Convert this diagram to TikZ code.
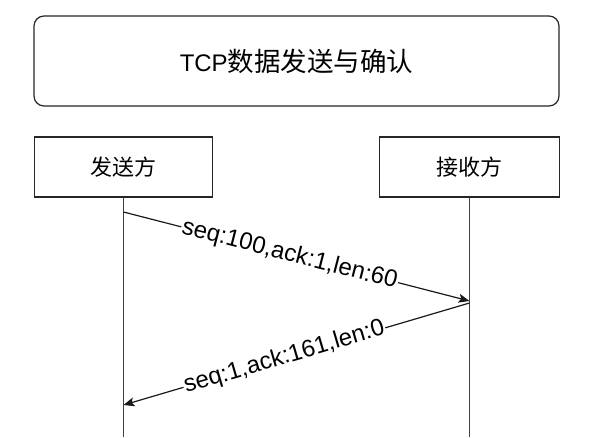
\documentclass[tikz,border=0pt]{standalone}
\usepackage{fontspec}
\setmainfont{Liberation Sans}
\newfontfamily\cjk{Noto Sans CJK SC}
\usetikzlibrary{arrows.meta}
\begin{document}
\begin{tikzpicture}[x=1pt,y=-1pt,
  box/.style={draw=black!85,line width=1.2pt,fill=white,inner sep=0pt},
  life/.style={draw=black!75,line width=1.2pt},
  msg/.style={draw=black!90,line width=1.2pt,-{Stealth[length=11pt,width=9pt,inset=2.5pt]}},
  lbl/.style={sloped,fill=white,inner sep=1pt,font=\fontsize{24}{26}\selectfont}]
\useasboundingbox (0,0) rectangle (605,437);
\node[box,rounded corners=10pt,minimum width=525pt,minimum height=90pt] (title) at (296.5,61)
  {\fontsize{24}{28}\selectfont TCP{\cjk\fontsize{26.5}{30}\selectfont 数据发送与确认}};
\node[box,minimum width=178pt,minimum height=60pt] (sender) at (123.5,167)
  {\cjk\fontsize{22}{24}\selectfont 发送方};
\node[box,minimum width=180pt,minimum height=60pt] (receiver) at (469.5,167)
  {\cjk\fontsize{22}{24}\selectfont 接收方};
\coordinate (sEnd) at (123.5,437);
\coordinate (rEnd) at (469.5,437);
\draw[life] (sender.south) -- (sEnd);
\draw[life] (receiver.south) -- (rEnd);
\coordinate (a1) at (123.5,212);
\coordinate (b1) at (469.5,301);
\coordinate (b2) at (469.5,303);
\coordinate (a2) at (123.5,405);
\draw[msg] (a1) -- node[lbl,pos=0.48] (l1) {seq:100,ack:1,len:60} (b1);
\draw[msg] (b2) -- node[lbl,pos=0.535] (l2) {seq:1,ack:161,len:0} (a2);
\end{tikzpicture}
\end{document}
